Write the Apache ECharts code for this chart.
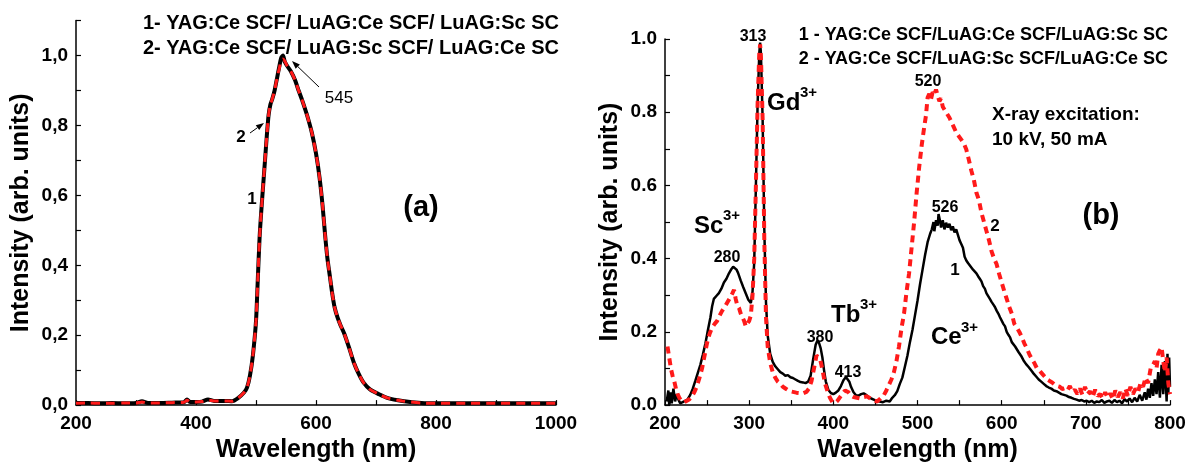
<!DOCTYPE html>
<html>
<head>
<meta charset="utf-8">
<script src="https://cdn.jsdelivr.net/npm/echarts@6/dist/echarts.min.js"></script>
<style>
  html, body { margin: 0; padding: 0; background: #fff; }
  #chart { width: 1193px; height: 468px; }
</style>
</head>
<body>
<div id="chart"></div>
<script>
// Panel (a): emission spectra, [wavelength nm, intensity]
const spectrumA1 = [
  [200,0.006],[220,0.006],[240,0.005],[260,0.006],[280,0.005],[300,0.006],[310,0.011],[320,0.006],
  [340,0.006],[360,0.007],[380,0.008],[385,0.016],[390,0.009],[400,0.009],[410,0.01],[420,0.016],
  [430,0.012],[440,0.012],[450,0.012],[460,0.011],[470,0.02],[480,0.036],[485,0.05],[490,0.085],
  [495,0.145],[500,0.24],[503,0.36],[506,0.48],[509,0.56],[512,0.63],[515,0.7],[518,0.77],[521,0.83],
  [524,0.86],[527,0.875],[531,0.9],[535,0.935],[539,0.97],[542,0.993],[545,1.0],[548,0.982],
  [552,0.97],[558,0.955],[565,0.93],[571,0.9],[577,0.872],[585,0.83],[593,0.78],[600,0.72],
  [606,0.65],[611,0.57],[615,0.49],[619,0.42],[623,0.37],[627,0.32],[631,0.28],[636,0.25],
  [641,0.228],[647,0.205],[655,0.165],[663,0.122],[671,0.09],[679,0.065],[690,0.045],[705,0.031],
  [720,0.02],[744,0.012],[776,0.006],[800,0.005],[850,0.005],[900,0.005],[950,0.005],[1000,0.005]
];
const spectrumA2 = [
  [200,0.005],[220,0.006],[240,0.005],[260,0.005],[280,0.006],[300,0.006],[310,0.009],[320,0.006],
  [340,0.006],[360,0.007],[380,0.008],[385,0.014],[390,0.009],[400,0.009],[410,0.01],[420,0.014],
  [430,0.012],[440,0.012],[450,0.012],[460,0.011],[470,0.02],[480,0.036],[485,0.05],[490,0.085],
  [495,0.145],[500,0.24],[503,0.36],[506,0.48],[509,0.56],[512,0.63],[515,0.7],[518,0.77],[521,0.83],
  [524,0.86],[527,0.875],[531,0.9],[535,0.935],[539,0.965],[542,0.985],[545,0.99],[548,0.984],
  [552,0.97],[558,0.955],[565,0.93],[571,0.9],[577,0.872],[585,0.83],[593,0.78],[600,0.72],
  [606,0.65],[611,0.57],[615,0.49],[619,0.42],[623,0.37],[627,0.32],[631,0.28],[636,0.25],
  [641,0.228],[647,0.205],[655,0.165],[663,0.122],[671,0.09],[679,0.065],[690,0.045],[705,0.031],
  [720,0.02],[744,0.012],[776,0.006],[800,0.005],[850,0.005],[900,0.005],[950,0.005],[1000,0.005]
];

// Panel (b): X-ray excited luminescence, [wavelength nm, intensity]
const spectrumB1 = [
  [202,0.01],[204,0.04],[205,0.0],[207,0.035],[208,0.005],[210,0.045],[212,0.01],[214,0.03],[216,0.015],
  [218,0.005],[221,0.008],[224,0.012],[227,0.016],[230,0.028],[233,0.045],[236,0.066],[239,0.088],
  [242,0.11],[245,0.138],[248,0.168],[251,0.205],[254,0.24],[256,0.27],[258,0.29],[261,0.298],
  [264,0.306],[267,0.318],[270,0.335],[273,0.345],[276,0.36],[279,0.372],[281,0.378],[283,0.374],
  [285,0.37],[287,0.36],[290,0.34],[293,0.322],[296,0.305],[299,0.288],[302,0.279],[304,0.31],
  [306,0.39],[308,0.6],[310,0.82],[312,0.96],[313,0.99],[314,0.96],[316,0.78],[318,0.48],[320,0.28],
  [322,0.19],[325,0.14],[328,0.118],[331,0.106],[334,0.098],[337,0.09],[340,0.086],[343,0.08],
  [346,0.082],[349,0.076],[352,0.074],[355,0.07],[358,0.066],[361,0.063],[364,0.062],[367,0.06],
  [370,0.064],[373,0.08],[376,0.125],[379,0.165],[381,0.176],[383,0.17],[385,0.155],[387,0.13],
  [389,0.095],[391,0.065],[394,0.042],[397,0.033],[400,0.03],[403,0.034],[406,0.04],[409,0.052],
  [412,0.068],[415,0.077],[417,0.075],[419,0.064],[421,0.05],[424,0.035],[427,0.027],[430,0.026],
  [433,0.03],[436,0.032],[439,0.028],[442,0.022],[445,0.018],[448,0.015],[451,0.012],[455,0.01],
  [459,0.008],[463,0.012],[467,0.01],[470,0.02],[473,0.027],[476,0.038],[479,0.058],[482,0.075],
  [485,0.105],[488,0.135],[491,0.172],[494,0.205],[497,0.245],[500,0.285],[503,0.33],[506,0.37],
  [509,0.41],[512,0.445],[515,0.468],[517,0.48],[519,0.5],[520,0.475],[522,0.505],[524,0.49],
  [525,0.522],[527,0.5],[528,0.485],[530,0.505],[532,0.48],[534,0.498],[536,0.485],[538,0.495],
  [540,0.478],[542,0.488],[544,0.472],[546,0.48],[548,0.465],[550,0.45],[552,0.44],[554,0.43],
  [556,0.405],[558,0.395],[560,0.388],[562,0.382],[564,0.376],[566,0.37],[568,0.37],[570,0.36],
  [572,0.352],[574,0.345],[576,0.338],[578,0.325],[580,0.318],[582,0.305],[584,0.3],[586,0.29],
  [588,0.282],[590,0.275],[592,0.268],[594,0.258],[596,0.25],[598,0.24],[600,0.235],[602,0.222],
  [604,0.215],[606,0.2],[608,0.192],[610,0.185],[612,0.172],[614,0.168],[616,0.16],[618,0.155],
  [620,0.145],[623,0.135],[626,0.122],[629,0.112],[632,0.104],[635,0.095],[638,0.086],[641,0.078],
  [644,0.07],[647,0.064],[650,0.058],[653,0.052],[656,0.048],[659,0.045],[662,0.04],[665,0.038],
  [668,0.034],[671,0.03],[674,0.028],[677,0.026],[680,0.022],[683,0.02],[686,0.017],[689,0.015],
  [692,0.012],[695,0.014],[698,0.01],[701,0.012],[704,0.008],[707,0.012],[710,0.006],[713,0.01],
  [716,0.008],[719,0.014],[722,0.006],[725,0.01],[728,0.012],[731,0.006],[734,0.014],[737,0.008],
  [740,0.012],[743,0.005],[746,0.016],[749,0.01],[752,0.018],[755,0.008],[758,0.02],[761,0.01],
  [764,0.028],[767,0.012],[770,0.035],[772,0.015],[774,0.045],[776,0.02],[778,0.06],[780,0.025],
  [782,0.07],[784,0.03],[786,0.09],[788,0.02],[790,0.11],[792,0.03],[794,0.12],[796,0.01],
  [797,0.14],[798,0.03],[799,0.13],[800,0.05]
];
const spectrumB2 = [
  [203,0.16],[205,0.13],[207,0.1],[209,0.08],[211,0.065],[213,0.045],[215,0.03],[217,0.02],[220,0.01],
  [223,0.008],[226,0.012],[229,0.016],[232,0.024],[235,0.036],[238,0.052],[241,0.075],[244,0.1],
  [247,0.135],[250,0.17],[253,0.195],[256,0.212],[259,0.222],[262,0.23],[265,0.245],[268,0.258],
  [271,0.268],[274,0.28],[277,0.292],[280,0.305],[282,0.315],[284,0.29],[286,0.272],[288,0.265],
  [290,0.25],[292,0.245],[294,0.23],[296,0.215],[298,0.21],[300,0.23],[302,0.245],[304,0.3],
  [306,0.4],[308,0.6],[310,0.82],[312,0.96],[313,0.985],[314,0.95],[316,0.78],[318,0.45],[320,0.24],
  [322,0.16],[325,0.115],[328,0.09],[331,0.075],[334,0.064],[337,0.058],[340,0.05],[344,0.044],
  [348,0.038],[352,0.036],[356,0.034],[360,0.033],[364,0.032],[368,0.036],[371,0.045],[374,0.065],
  [377,0.1],[380,0.135],[382,0.14],[384,0.128],[386,0.108],[388,0.085],[390,0.06],[393,0.038],
  [396,0.02],[399,0.008],[402,0.006],[405,0.012],[408,0.022],[411,0.032],[414,0.04],[416,0.042],
  [418,0.035],[421,0.026],[424,0.022],[428,0.02],[432,0.018],[436,0.022],[440,0.024],[444,0.018],
  [448,0.012],[452,0.01],[456,0.018],[460,0.027],[463,0.04],[466,0.055],[469,0.07],[472,0.09],
  [475,0.12],[478,0.16],[481,0.21],[484,0.25],[487,0.31],[490,0.36],[493,0.43],[496,0.5],[499,0.58],
  [502,0.65],[505,0.71],[508,0.76],[510,0.79],[512,0.84],[514,0.85],[516,0.835],[518,0.855],
  [520,0.848],[522,0.862],[524,0.845],[526,0.83],[528,0.838],[530,0.815],[532,0.81],[534,0.8],
  [536,0.795],[538,0.785],[540,0.775],[543,0.76],[546,0.745],[549,0.735],[552,0.725],[555,0.715],
  [558,0.698],[561,0.67],[564,0.64],[567,0.615],[570,0.58],[573,0.56],[576,0.525],[579,0.5],
  [582,0.475],[585,0.45],[588,0.42],[591,0.4],[594,0.385],[597,0.358],[600,0.335],[603,0.312],
  [606,0.29],[609,0.268],[612,0.25],[615,0.222],[618,0.212],[621,0.2],[624,0.185],[627,0.168],
  [630,0.155],[633,0.138],[636,0.126],[639,0.114],[642,0.1],[645,0.094],[648,0.086],[651,0.078],
  [654,0.07],[657,0.066],[660,0.062],[663,0.056],[666,0.052],[669,0.05],[672,0.044],[675,0.046],
  [678,0.04],[681,0.052],[684,0.036],[687,0.042],[690,0.03],[693,0.045],[696,0.028],[699,0.05],
  [702,0.03],[705,0.038],[708,0.022],[711,0.042],[714,0.025],[717,0.03],[720,0.018],[723,0.035],
  [726,0.02],[729,0.032],[732,0.016],[735,0.04],[738,0.022],[741,0.035],[744,0.018],[747,0.045],
  [750,0.025],[753,0.05],[756,0.03],[759,0.045],[762,0.035],[765,0.06],[768,0.05],[771,0.075],
  [774,0.06],[777,0.1],[780,0.11],[782,0.12],[784,0.1],[786,0.14],[788,0.15],[790,0.158],
  [792,0.12],[794,0.09],[796,0.13],[798,0.06],[800,0.03]
];

const legendA = ['1- YAG:Ce SCF/ LuAG:Ce SCF/ LuAG:Sc SC', '2- YAG:Ce SCF/ LuAG:Sc SCF/ LuAG:Ce SC'];
const legendB = ['1 - YAG:Ce SCF/LuAG:Ce SCF/LuAG:Sc SC', '2 - YAG:Ce SCF/LuAG:Sc SCF/LuAG:Ce SC'];
const xName = 'Wavelength (nm)';
const yName = 'Intensity (arb. units)';

const FONT = '"Liberation Sans", Arial, Helvetica, sans-serif';

function evenTenth(v) { return Math.round(v * 10) % 2 === 0; }

function valueAxisX(gridIndex, min, max, interval, labelStep) {
  return {
    type: 'value', gridIndex, min, max, interval,
    name: xName, nameLocation: 'middle', nameGap: 30,
    nameTextStyle: { fontFamily: FONT, fontSize: 25, fontWeight: 'bold', color: '#000' },
    axisLine: { show: true, onZero: false, lineStyle: { color: '#000', width: 1.5 } },
    axisTick: { show: true, inside: true, length: 5, lineStyle: { color: '#000', width: 1.2 } },
    axisLabel: {
      fontFamily: FONT, fontSize: 19, fontWeight: 'bold', color: '#000', margin: 9,
      formatter: v => (Math.round(v) % labelStep === 0 ? String(v) : '')
    },
    splitLine: { show: false }
  };
}

function valueAxisY(gridIndex, max, sep) {
  return {
    type: 'value', gridIndex, min: 0, max, interval: 0.1,
    name: yName, nameLocation: 'middle', nameGap: 42,
    nameTextStyle: { fontFamily: FONT, fontSize: 25, fontWeight: 'bold', color: '#000' },
    axisLine: { show: true, onZero: false, lineStyle: { color: '#000', width: 1.5 } },
    axisTick: { show: true, inside: true, length: 5, lineStyle: { color: '#000', width: 1.2 } },
    axisLabel: {
      fontFamily: FONT, fontSize: 19, fontWeight: 'bold', color: '#000', margin: 8,
      formatter: v => (evenTenth(v) && v <= 1.0001 ? v.toFixed(1).replace('.', sep) : '')
    },
    splitLine: { show: false }
  };
}

function txt(x, y, text, size, opts) {
  opts = opts || {};
  return {
    type: 'text', x, y, silent: true,
    style: {
      text, fontFamily: FONT, fontSize: size,
      fontWeight: opts.weight || 'bold', fill: '#000',
      align: opts.align || 'left', verticalAlign: 'middle'
    }
  };
}

function arrow(x1, y1, x2, y2) {
  const ang = Math.atan2(y2 - y1, x2 - x1);
  const L = 8, W = 3;
  const bx = x2 - L * Math.cos(ang), by = y2 - L * Math.sin(ang);
  const px = -Math.sin(ang) * W, py = Math.cos(ang) * W;
  return [
    { type: 'line', silent: true, shape: { x1, y1, x2: bx, y2: by }, style: { stroke: '#000', lineWidth: 1 } },
    { type: 'polygon', silent: true, shape: { points: [[x2, y2], [bx + px, by + py], [bx - px, by - py]] }, style: { fill: '#000' } }
  ];
}

const chart = echarts.init(document.getElementById('chart'), null, { renderer: 'canvas' });

chart.setOption({
  backgroundColor: '#fff',
  animation: false,
  grid: [
    { left: 76, top: 20.6, width: 480, height: 389.4 },
    { left: 665, top: 39, width: 505, height: 373 }
  ],
  xAxis: [
    valueAxisX(0, 200, 1000, 100, 200),
    valueAxisX(1, 200, 800, 50, 100)
  ],
  yAxis: [
    valueAxisY(0, 1.1, ','),
    valueAxisY(1, 1.0, '.')
  ],
  series: [
    { type: 'line', xAxisIndex: 0, yAxisIndex: 0, data: spectrumA1, showSymbol: false, smooth: 0.25,
      lineStyle: { color: '#000', width: 4 }, z: 2 },
    { type: 'line', xAxisIndex: 0, yAxisIndex: 0, data: spectrumA2, showSymbol: false, smooth: 0.25,
      lineStyle: { color: '#ff1a1a', width: 3, type: [9, 6] }, z: 3 },
    { type: 'line', xAxisIndex: 1, yAxisIndex: 1, data: spectrumB1, showSymbol: false,
      lineStyle: { color: '#000', width: 2.5 }, z: 2 },
    { type: 'line', xAxisIndex: 1, yAxisIndex: 1, data: spectrumB2, showSymbol: false,
      lineStyle: { color: '#ff1a1a', width: 4, type: [7, 5] }, z: 3 }
  ],
  graphic: [
    // panel (a) annotations
    txt(143, 23, legendA[0], 20),
    txt(143, 48, legendA[1], 20),
    txt(339, 98, '545', 17, { weight: 'normal', align: 'center' }),
    ...arrow(319, 87, 292, 61),
    txt(241, 137, '2', 17, { align: 'center' }),
    ...arrow(250, 133, 264, 123),
    txt(252, 199, '1', 17, { align: 'center' }),
    txt(421, 208, '(a)', 29, { align: 'center' }),
    // panel (b) annotations
    txt(1168, 35, legendB[0], 18, { align: 'right' }),
    txt(1168, 59, legendB[1], 18, { align: 'right' }),
    txt(753, 37, '313', 16, { align: 'center' }),
    txt(767, 103, 'Gd', 24), txt(800, 93, '3+', 15),
    txt(694, 226, 'Sc', 24), txt(723, 216, '3+', 15),
    txt(727, 258, '280', 16, { align: 'center' }),
    txt(831, 315, 'Tb', 24), txt(860, 305, '3+', 15),
    txt(820, 338, '380', 16, { align: 'center' }),
    txt(848, 373, '413', 16, { align: 'center' }),
    txt(928, 82, '520', 16, { align: 'center' }),
    txt(992, 115, 'X-ray excitation:', 19),
    txt(992, 140, '10 kV, 50 mA', 19),
    txt(1101, 216, '(b)', 29, { align: 'center' }),
    txt(945, 208, '526', 16, { align: 'center' }),
    txt(995, 226, '2', 17, { align: 'center' }),
    txt(955, 270, '1', 17, { align: 'center' }),
    txt(931, 337, 'Ce', 24), txt(961, 328, '3+', 15)
  ]
});
</script>
</body>
</html>
